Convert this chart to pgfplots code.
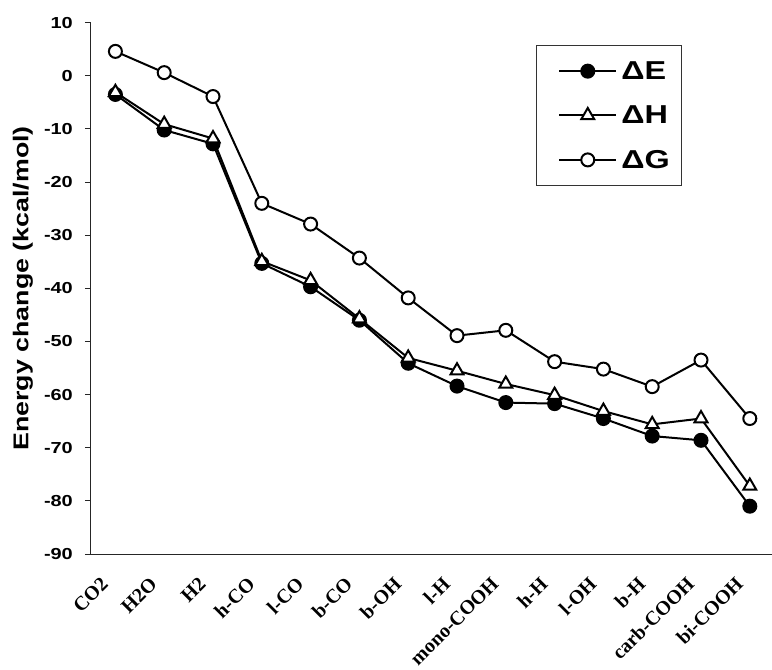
\documentclass[border=0pt]{standalone}
\usepackage{pgfplots}
\pgfplotsset{compat=1.18}
\usepackage{fontspec}
\setmainfont{Liberation Sans}
\newfontfamily\widesans{Liberation Sans}[FakeStretch=1.25]
\newfontfamily\timesb{Liberation Serif}
\begin{document}
\begin{tikzpicture}
\begin{axis}[
  scale only axis,
  width=683.2bp, height=531.3bp,
  xmin=-0.5, xmax=13.5, ymin=-90, ymax=10,
  axis x line*=bottom, axis y line*=left,
  axis line style={-, line width=1bp, black!85},
  xtick={0,...,13},
  xticklabels={CO2,H2O,H2,h-CO,l-CO,b-CO,b-OH,l-H,mono-COOH,h-H,l-OH,b-H,carb-COOH,bi-COOH},
  x tick style={draw=none},
  minor xtick={-0.5,0.5,...,13.5},
  minor x tick style={line width=1bp, black!85},
  minor tick length=6bp,
  ytick={-90,-80,...,10},
  yticklabels={-90,-80,-70,-60,-50,-40,-30,-20,-10,0,10},
  y tick style={line width=1bp, black!85},
  major tick length=6bp,
  tick align=outside,
  yticklabel style={font=\widesans\fontsize{16}{19}\selectfont\bfseries, inner sep=0pt, xshift=-12bp},
  xticklabel style={font=\fontsize{20}{24}\selectfont\timesb\bfseries, xshift=-15.5bp, yshift=-15.5bp, rotate=45, anchor=north east, inner sep=0pt},
  ylabel={Energy change (kcal/mol)},
  every axis y label/.style={at={(axis description cs:-0.0849,0.5)}, rotate=90, anchor=south, font=\widesans\fontsize{21.5}{26}\selectfont\bfseries, inner sep=0pt},
  legend cell align=left,
  legend style={at={(rel axis cs:0.651,0.958)}, anchor=north west, draw=black!80, line width=1bp,
    font=\widesans\fontsize{26}{30}\selectfont\bfseries, row sep=21bp, inner xsep=10bp, inner ysep=14bp},
  legend image code/.code={\path (0bp,0bp) (71bp,0bp); \draw[mark repeat=2,mark phase=2,#1] plot coordinates {(12bp,0bp) (40.5bp,0bp) (69bp,0bp)};},
  clip=false,
]
\addplot[black, line width=2bp, mark=*, mark size=6.5bp, mark options={solid, fill=black}] coordinates {
(0,-3.5) (1,-10.2) (2,-12.8) (3,-35.3) (4,-39.7) (5,-46.0) (6,-54.1) (7,-58.4) (8,-61.5) (9,-61.7) (10,-64.5) (11,-67.8) (12,-68.6) (13,-81.0)};
\addlegendentry{ΔE}
\addplot[black, line width=2bp, mark=triangle*, mark size=7.5bp, mark options={solid, fill=white}] coordinates {
(0,-3.1) (1,-9.1) (2,-11.8) (3,-34.9) (4,-38.5) (5,-45.7) (6,-53.1) (7,-55.5) (8,-58.0) (9,-60.1) (10,-63.1) (11,-65.6) (12,-64.5) (13,-77.2)};
\addlegendentry{ΔH}
\addplot[black, line width=2bp, mark=*, mark size=6.5bp, mark options={solid, fill=white}] coordinates {
(0,4.6) (1,0.6) (2,-3.9) (3,-24.0) (4,-27.9) (5,-34.3) (6,-41.8) (7,-48.9) (8,-47.9) (9,-53.8) (10,-55.2) (11,-58.5) (12,-53.5) (13,-64.5)};
\addlegendentry{ΔG}
\coordinate (O) at (rel axis cs:0,0);
\end{axis}
\pgfresetboundingbox
\path ([shift={(-91bp,-116bp)}]O) rectangle ++(772bp,670bp);
\end{tikzpicture}
\end{document}
